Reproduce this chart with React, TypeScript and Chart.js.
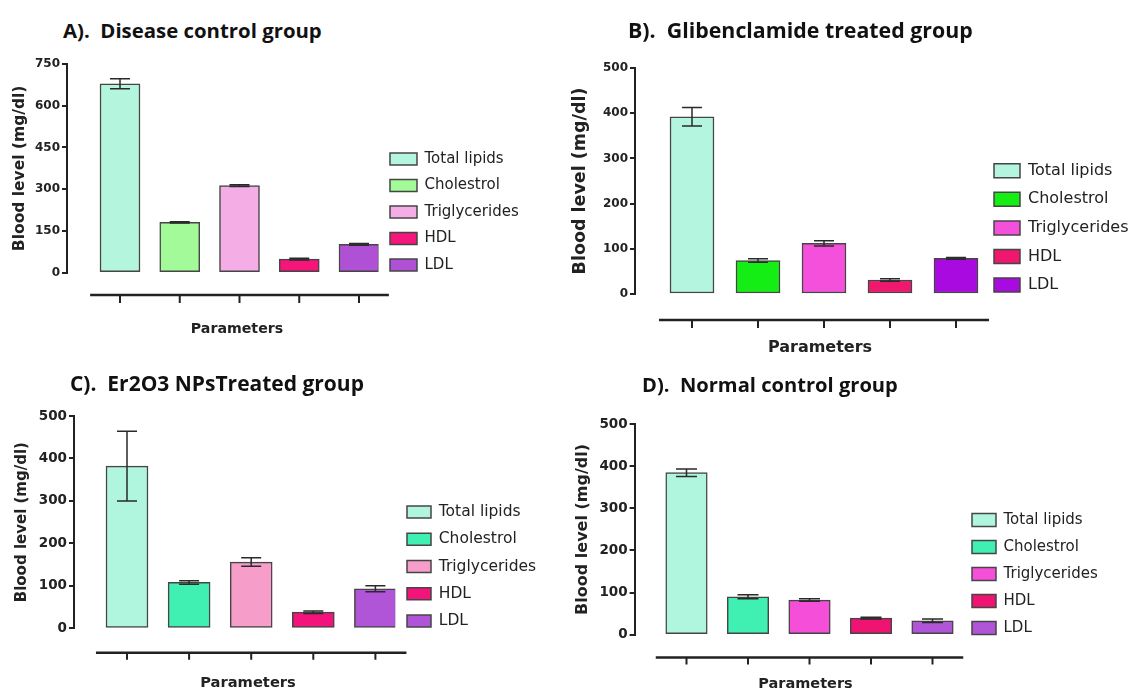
import React, { useEffect, useRef } from 'react';
import { Chart, registerables } from 'chart.js';

Chart.register(...registerables);

// ---------- data ----------
const categories = ['Total lipids', 'Cholestrol', 'Triglycerides', 'HDL', 'LDL'];
const yAxisTitle = 'Blood level (mg/dl)';
const xAxisTitle = 'Parameters';

const diseaseMeans = [679, 181, 313, 49, 102];
const diseaseErrors = [18, 2, 3, 3, 3];
const diseaseColors = ['#b3f5dd', '#a3fa98', '#f5ade5', '#f5157b', '#b050d5'];
const diseaseYMax = 750;
const diseaseYStep = 150;

const glibMeans = [392, 74, 112, 31, 79];
const glibErrors = [20.5, 4, 6, 3, 2];
const glibColors = ['#b3f5df', '#14ee14', '#f550dc', '#f0176f', '#a80ae0'];
const glibYMax = 500;
const glibYStep = 100;

const er2o3Means = [382, 108, 156, 38, 93];
const er2o3Errors = [82, 4, 10, 3, 7];
const er2o3Colors = ['#b0f5dd', '#3ff0b2', '#f79dc9', '#f2147a', '#b054d8'];
const er2o3YMax = 500;
const er2o3YStep = 100;

const normalMeans = [385, 90, 82, 39, 33];
const normalErrors = [9, 5, 3, 2, 4];
const normalColors = ['#b0f5dd', '#3ff0b2', '#f54fd9', '#f01472', '#b054d8'];
const normalYMax = 500;
const normalYStep = 100;

// ---------- layout (page pixels) ----------
type Layout = {
  canvasTop: number; canvasH: number;
  axisX: number; yTopPx: number; yZeroPx: number;
  firstCenter: number; spacing: number; barW: number;
  xLineY: number; tickLen: number; capW: number;
  tickFont: number;
  paramX: number; paramY: number; paramFont: number;
  yTitleX: number; yTitleFont: number;
  legendBoxLeft: number; legendBoxW: number; legendBoxH: number; legendFont: number;
  legendFirstY: number; legendStep: number;
  titleLeft: number; titleCapTop: number; titleWidth: number;
};

type Panel = {
  title: string;
  means: number[]; errors: number[]; colors: string[];
  yMax: number; yStep: number; L: Layout;
};

const panels: Panel[] = [
  {
    title: 'A).  Disease control group',
    means: diseaseMeans, errors: diseaseErrors, colors: diseaseColors,
    yMax: diseaseYMax, yStep: diseaseYStep,
    L: {
      canvasTop: 44, canvasH: 300,
      axisX: 67, yTopPx: 64, yZeroPx: 272.7,
      firstCenter: 120, spacing: 59.75, barW: 40,
      xLineY: 295, tickLen: 8, capW: 20, tickFont: 12,
      paramX: 237, paramY: 329, paramFont: 14.2,
      yTitleX: 20, yTitleFont: 15.5,
      legendBoxLeft: 390, legendBoxW: 27, legendBoxH: 12, legendFont: 15,
      legendFirstY: 159, legendStep: 26.5,
      titleLeft: 63, titleCapTop: 24, titleWidth: 259,
    },
  },
  {
    title: 'B).  Glibenclamide treated group',
    means: glibMeans, errors: glibErrors, colors: glibColors,
    yMax: glibYMax, yStep: glibYStep,
    L: {
      canvasTop: 44, canvasH: 316,
      axisX: 635, yTopPx: 68, yZeroPx: 294,
      firstCenter: 692, spacing: 66, barW: 44,
      xLineY: 320, tickLen: 8, capW: 20, tickFont: 12,
      paramX: 820, paramY: 348, paramFont: 16,
      yTitleX: 580, yTitleFont: 17.5,
      legendBoxLeft: 994, legendBoxW: 26, legendBoxH: 14, legendFont: 16,
      legendFirstY: 170.7, legendStep: 28.6,
      titleLeft: 628, titleCapTop: 23, titleWidth: 345,
    },
  },
  {
    title: 'C).  Er2O3 NPsTreated group',
    means: er2o3Means, errors: er2o3Errors, colors: er2o3Colors,
    yMax: er2o3YMax, yStep: er2o3YStep,
    L: {
      canvasTop: 396, canvasH: 297,
      axisX: 74, yTopPx: 416, yZeroPx: 628.3,
      firstCenter: 127, spacing: 62.1, barW: 42,
      xLineY: 652.7, tickLen: 7, capW: 20, tickFont: 13.5,
      paramX: 248, paramY: 683, paramFont: 14.7,
      yTitleX: 22.5, yTitleFont: 15,
      legendBoxLeft: 407, legendBoxW: 24, legendBoxH: 12, legendFont: 15.5,
      legendFirstY: 512, legendStep: 27.25,
      titleLeft: 70, titleCapTop: 377, titleWidth: 294,
    },
  },
  {
    title: 'D).  Normal control group',
    means: normalMeans, errors: normalErrors, colors: normalColors,
    yMax: normalYMax, yStep: normalYStep,
    L: {
      canvasTop: 396, canvasH: 297,
      axisX: 634.6, yTopPx: 424.3, yZeroPx: 635.3,
      firstCenter: 686.5, spacing: 61.5, barW: 41.5,
      xLineY: 658.3, tickLen: 7, capW: 21, tickFont: 13.5,
      paramX: 805.5, paramY: 685, paramFont: 14.5,
      yTitleX: 582.5, yTitleFont: 16,
      legendBoxLeft: 972, legendBoxW: 24, legendBoxH: 13, legendFont: 15,
      legendFirstY: 520, legendStep: 27,
      titleLeft: 642, titleCapTop: 378, titleWidth: 256,
    },
  },
];

const INK = '#222';
const FAMILY = 'DejaVu Sans';
const TITLE_FAMILY = '"Open Sans"';

function measure(font: string, texts: string[]): number {
  const c = document.createElement('canvas');
  const ctx = c.getContext('2d');
  if (!ctx) return 100;
  ctx.font = font;
  return Math.max(...texts.map((t) => ctx.measureText(t).width));
}

function PanelChart({ p }: { p: Panel }) {
  const ref = useRef<HTMLCanvasElement | null>(null);
  const L = p.L;

  const baseTitleW = measure(`700 20px ${TITLE_FAMILY}`, [p.title]);
  const titleSize = baseTitleW > 0 ? (20 * L.titleWidth) / baseTitleW : 20;

  useEffect(() => {
    const canvas = ref.current;
    if (!canvas) return;

    const itemH = Math.max(L.legendFont, L.legendBoxH);
    const legPad = L.legendStep - itemH;
    const chartRight = L.legendBoxLeft - legPad;
    const legendW =
      legPad + L.legendBoxW + L.legendFont / 2 + measure(`${L.legendFont}px ${FAMILY}`, categories) + 10;
    const spanRight = chartRight + legendW;
    const spanLeft = 2 * L.paramX - spanRight;
    const cl = Math.floor(spanLeft);
    const pl = spanLeft - cl;
    const W = Math.ceil(spanRight - cl) + 2;
    const pr = W - (spanRight - cl);

    const lhP = L.paramFont * 1.2;
    const yW = L.axisX - spanLeft;
    const pt = L.yTopPx - L.canvasTop;
    const xH = L.paramY - L.yZeroPx - lhP / 2;
    const pb = Math.max(0, L.canvasH - (L.yZeroPx - L.canvasTop) - xH - lhP);
    const xMin = -(L.firstCenter - L.axisX) / L.spacing;
    const xMax = xMin + (chartRight - L.axisX) / L.spacing;
    const legTitleH = L.legendFirstY - L.yTopPx - legPad - itemH / 2;
    const yTitleLh = L.yTitleFont * 1.2;
    const yTitlePad = L.yTitleX - spanLeft - yTitleLh / 2;
    const gap = L.xLineY - L.yZeroPx;

    canvas.width = W;
    canvas.height = L.canvasH;
    canvas.style.left = `${cl}px`;
    canvas.style.top = `${L.canvasTop}px`;
    canvas.style.width = `${W}px`;
    canvas.style.height = `${L.canvasH}px`;

    const datasets = categories.map((c, i) => ({
      label: c,
      data: [{ x: i, y: p.means[i] }],
      backgroundColor: p.colors[i],
      borderColor: '#454545',
      borderWidth: 1.5,
      borderSkipped: false as const,
      barThickness: L.barW,
      grouped: false,
    }));

    const errorBars = {
      id: 'errorBars',
      afterDatasetsDraw(chart: any) {
        const { ctx } = chart;
        const y = chart.scales.y;
        ctx.save();
        ctx.strokeStyle = '#2a2a2a';
        ctx.lineWidth = 1.5;
        chart.data.datasets.forEach((_ds: any, i: number) => {
          const bar = chart.getDatasetMeta(i).data[0];
          if (!bar) return;
          const v = p.means[i];
          const e = p.errors[i];
          const hi = y.getPixelForValue(v + e);
          const lo = y.getPixelForValue(v - e);
          const x = bar.x;
          const hw = L.capW / 2;
          ctx.beginPath();
          ctx.moveTo(x, hi); ctx.lineTo(x, lo);
          ctx.moveTo(x - hw, hi); ctx.lineTo(x + hw, hi);
          ctx.moveTo(x - hw, lo); ctx.lineTo(x + hw, lo);
          ctx.stroke();
        });
        ctx.restore();
      },
    };

    const detachedXAxis = {
      id: 'detachedXAxis',
      afterDraw(chart: any) {
        const { ctx } = chart;
        const xs = chart.scales.x;
        const yLine = chart.chartArea.bottom + gap;
        ctx.save();
        ctx.strokeStyle = INK;
        ctx.lineWidth = 2.5;
        ctx.beginPath();
        ctx.moveTo(xs.getPixelForValue(-0.5), yLine);
        ctx.lineTo(xs.getPixelForValue(categories.length - 0.5), yLine);
        ctx.stroke();
        ctx.lineWidth = 2;
        ctx.beginPath();
        categories.forEach((_, i) => {
          const px = xs.getPixelForValue(i);
          ctx.moveTo(px, yLine);
          ctx.lineTo(px, yLine + L.tickLen);
        });
        ctx.stroke();
        ctx.restore();
      },
    };

    const chart = new Chart(canvas, {
      type: 'bar',
      data: { datasets: datasets as any },
      options: {
        responsive: false,
        animation: false,
        devicePixelRatio: 1,
        layout: { padding: { left: pl, top: pt, right: pr, bottom: pb } },
        scales: {
          x: {
            type: 'linear',
            min: xMin,
            max: xMax,
            offset: false,
            ticks: { display: false },
            grid: { display: false },
            border: { display: false },
            afterFit: (s: any) => { s.height = xH; },
          },
          y: {
            min: 0,
            max: p.yMax,
            ticks: {
              stepSize: p.yStep,
              color: INK,
              padding: 2,
              font: { family: FAMILY, weight: 'bold', size: L.tickFont },
            },
            grid: { drawOnChartArea: false, drawTicks: true, tickLength: 5, color: INK, lineWidth: 2 },
            border: { display: true, color: INK, width: 2 },
            title: {
              display: true,
              text: yAxisTitle,
              color: INK,
              font: { family: FAMILY, weight: 'bold', size: L.yTitleFont, lineHeight: 1.2 },
              padding: { top: yTitlePad, bottom: 0 },
            },
            afterFit: (s: any) => { s.width = yW; },
          },
        },
        plugins: {
          title: { display: false },
          tooltip: { enabled: false },
          subtitle: {
            display: true,
            text: xAxisTitle,
            position: 'bottom',
            align: 'center',
            color: INK,
            font: { family: FAMILY, weight: 'bold', size: L.paramFont, lineHeight: 1.2 },
            padding: 0,
          },
          legend: {
            display: true,
            position: 'right',
            align: 'start',
            maxWidth: 2000,
            title: {
              display: true,
              text: '',
              font: { size: 10, lineHeight: 1 },
              padding: { top: 0, bottom: legTitleH - 10 },
            },
            labels: {
              boxWidth: L.legendBoxW,
              boxHeight: L.legendBoxH,
              padding: legPad,
              color: INK,
              font: { family: FAMILY, size: L.legendFont },
            },
          },
        },
      } as any,
      plugins: [errorBars, detachedXAxis],
    });
    return () => chart.destroy();
  }, []);

  return (
    <>
      <canvas ref={ref} style={{ position: 'absolute', left: 0, top: L.canvasTop }} />
      <div
        style={{
          position: 'absolute',
          left: L.titleLeft,
          top: L.titleCapTop - 0.174 * titleSize,
          fontFamily: TITLE_FAMILY,
          fontWeight: 700,
          fontSize: titleSize,
          lineHeight: `${titleSize}px`,
          color: '#111',
          whiteSpace: 'pre',
        }}
      >
        {p.title}
      </div>
    </>
  );
}

export default function App() {
  return (
    <div
      style={{
        position: 'fixed',
        left: 0,
        top: 0,
        width: 1145,
        height: 693,
        background: '#fff',
        overflow: 'hidden',
      }}
    >
      {panels.map((p) => (
        <PanelChart key={p.title} p={p} />
      ))}
    </div>
  );
}
